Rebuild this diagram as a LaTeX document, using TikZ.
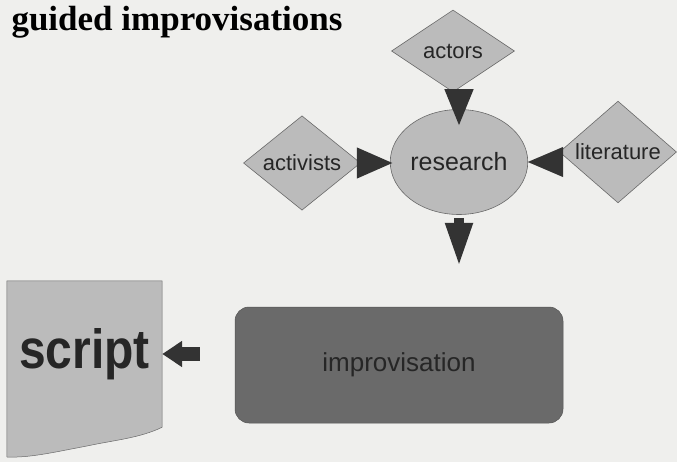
\documentclass[tikz,border=0pt]{standalone}
\usepackage{fontspec}
\setmainfont{Liberation Sans}
\newfontfamily\titlefont{Liberation Serif}
\usetikzlibrary{shapes.geometric,arrows.meta}
\definecolor{paper}{HTML}{EFEFED}
\definecolor{shapefill}{HTML}{BBBBBB}
\definecolor{shapeedge}{HTML}{6A6A6A}
\definecolor{arrowc}{HTML}{333333}
\definecolor{darkbox}{HTML}{6A6A6A}
\definecolor{inktext}{HTML}{262626}
\begin{document}
\begin{tikzpicture}[x=1pt,y=-1pt,
  diamondbox/.style={diamond, draw=shapeedge, line width=0.6pt, fill=shapefill, inner sep=0pt,
    text=inktext, font=\fontsize{22}{24}\selectfont},
  circlebox/.style={ellipse, draw=shapeedge, line width=0.6pt, fill=shapefill, inner sep=0pt,
    text=inktext, font=\fontsize{25}{28}\selectfont},
  blockarrow/.style={draw=arrowc, line width=12pt, -{Triangle[length=38pt,width=26pt]}},
]
\fill[paper] (0,0) rectangle (677,462);
\useasboundingbox (0,0) rectangle (677,462);

\node[anchor=base west, font=\titlefont\bfseries\fontsize{35}{40}\selectfont, text=black] (title) at (8,31) {guided improvisations};

\node[diamondbox, minimum width=123pt, minimum height=82pt] (actors) at (453,51) {actors};
\node[diamondbox, minimum width=117pt, minimum height=94pt] (activists) at (302,163) {activists};
\node[diamondbox, minimum width=117pt, minimum height=94pt] (literature) at (618,152) {literature};
\node[circlebox, minimum width=112pt, minimum height=105pt] (research) at (459,162) {research};

% script document shape
\node[minimum width=155pt, minimum height=146pt, inner sep=0pt] (script) at (84.5,354) {};
\fill[shapefill] (script.north west) -- (script.north east) -- (script.south east)
  .. controls (140,438) and (115,440) .. (87,446)
  .. controls (55,452) and (30,458) .. (7,457) -- cycle;
\draw[shapeedge, line width=0.5pt] (script.north west) -- (script.north east) -- (script.south east)
  .. controls (140,438) and (115,440) .. (87,446)
  .. controls (55,452) and (30,458) .. (7,457) -- cycle;
\node[font=\bfseries\fontsize{48}{52}\selectfont, text=inktext] (scripttext) at (script.center) {\scalebox{1}[1.15]{script}};

\node[rectangle, rounded corners=14pt, fill=darkbox, draw=darkbox!80!black, line width=0.5pt,
  minimum width=328pt, minimum height=116pt, text=inktext,
  font=\fontsize{26}{28}\selectfont] (improv) at (399,365) {improvisation};

\coordinate (downend) at (459,267);

\draw[blockarrow, shorten <=-14pt, shorten >=-18pt] (research.north |- actors.south) -- (research.north);
\draw[blockarrow, -{Triangle[length=37pt,width=28pt]}, shorten <=-1pt, shorten >=-4pt] (activists.east) -- (activists.east -| research.west);
\draw[blockarrow, -{Triangle[length=37pt,width=27pt]}, shorten <=-2pt, shorten >=-2pt] (literature.west |- research.east) -- (research.east);
\draw[blockarrow, line width=10pt, -{Triangle[length=44pt,width=25pt]}, shorten <=3pt] (research.south) -- (downend);
\draw[blockarrow, line width=14pt, -{Triangle[length=20pt,width=25pt]}, shorten <=35pt] (improv.west |- script.east) -- (script.east);
\end{tikzpicture}
\end{document}
